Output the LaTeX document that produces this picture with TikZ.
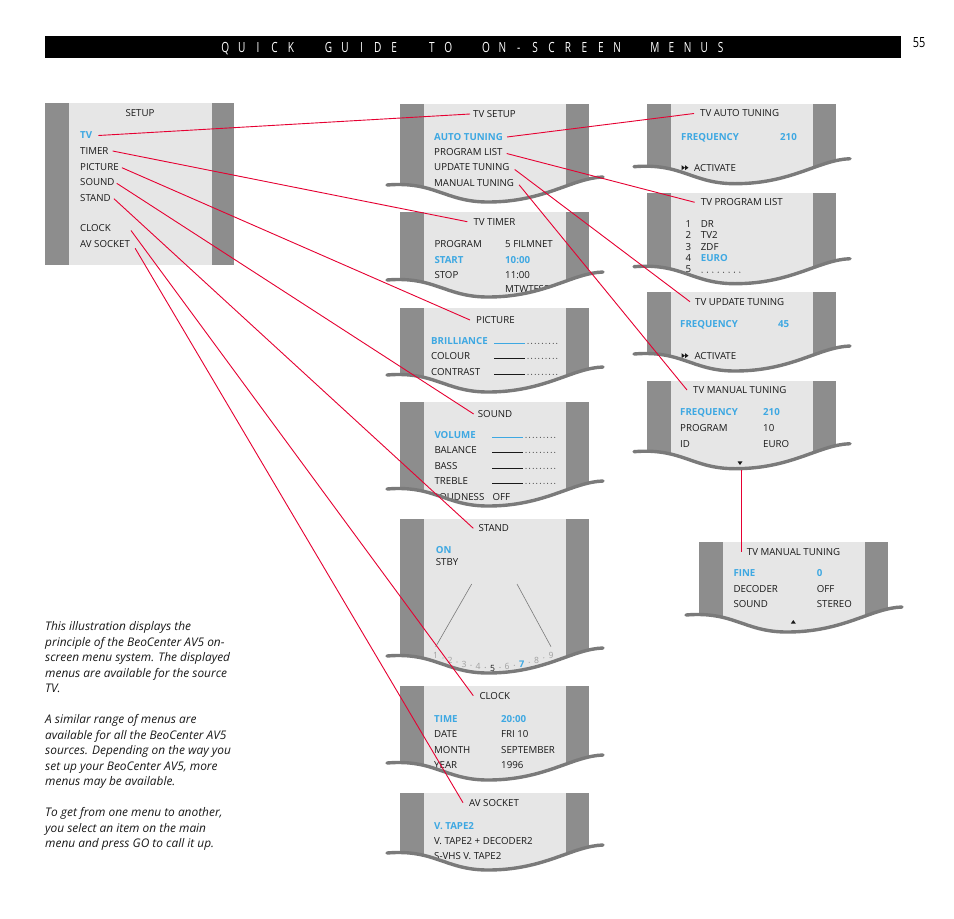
\documentclass[tikz,border=0pt]{standalone}
\usepackage{fontspec}
\setmainfont{Open Sans}
\definecolor{dkg}{RGB}{141,141,141}
\definecolor{ltg}{RGB}{230,230,230}
\definecolor{wavec}{RGB}{122,122,122}
\definecolor{hl}{RGB}{62,168,226}
\definecolor{txt}{RGB}{25,25,25}
\definecolor{lred}{RGB}{230,0,50}
\definecolor{numg}{RGB}{160,160,160}
\newcommand{\menubox}[3]{%
  \fill[dkg] (#1,#2) rectangle ({#1+189},{#3+20});
  \fill[ltg] ({#1+24},#2) rectangle ({#1+166},{#3+20});}
\newcommand{\menuwave}[2]{%
  \fill[white] ({#1-13},#2) .. controls ({#1+35},{#2-4}) and ({#1+45},{#2+17}) .. ({#1+88},{#2+17}) .. controls ({#1+145},{#2+17}) and ({#1+172},{#2-7}) .. ({#1+203},{#2-8}) -- ({#1+203},{#2+23}) -- ({#1-13},{#2+23}) -- cycle;
  \draw[wv] ({#1-13},#2) .. controls ({#1+35},{#2-4}) and ({#1+45},{#2+17}) .. ({#1+88},{#2+17}) .. controls ({#1+145},{#2+17}) and ({#1+172},{#2-7}) .. ({#1+203},{#2-8});}
\newcommand{\slbar}[3]{%
  \draw[#3,line width=1.1pt] (#1,#2) -- ({#1+31},#2);
  \foreach \k in {0,...,8} \fill[txt] ({#1+34+\k*3.6},#2) circle (0.5);}
\newcommand{\actarrow}[2]{%
  \fill[txt] (#1,{#2-2.5}) -- ({#1+3.5},#2) -- (#1,{#2+2.5}) -- cycle;
  \fill[txt] ({#1+3.5},{#2-2.5}) -- ({#1+7},#2) -- ({#1+3.5},{#2+2.5}) -- cycle;}
\begin{document}
\begin{tikzpicture}[x=1pt,y=-1pt,
  itm/.style={anchor=west,inner sep=0pt,text height=6.9pt,text depth=0pt,text=txt,font=\fontsize{9.7}{10}\selectfont},
  hi/.style={itm,text=hl,font=\fontsize{9.7}{10}\selectfont\bfseries},
  conn/.style={draw=lred,line width=0.9pt},
  wv/.style={draw=wavec,line width=3.4pt,line cap=round},
  para/.style={anchor=base west,inner sep=0pt,text=txt,font=\fontsize{11.9}{12}\selectfont\itshape},
  hd/.style={text=white,inner sep=0pt,text height=10pt,text depth=0pt,font=\fontsize{14}{14}\selectfont},
  stn/.style={inner sep=0pt,text height=6.2pt,text depth=0pt,text=numg,font=\fontsize{8.6}{9}\selectfont},
]
\useasboundingbox (0,0) rectangle (954,919);
\fill[white] (0,0) rectangle (954,919);

% header
\fill[black] (45,36) rectangle (901,58);
\foreach \c/\s [count=\i] in {Q/0,U/1,I/2,C/3,K/4,G/6.3,U/7.3,I/8.3,D/9.3,E/10.3,T/12.6,O/13.6,O/15.9,N/16.9,-/17.9,S/18.9,C/19.9,R/20.9,E/21.9,E/22.9,N/23.9,M/26.2,E/27.2,N/28.2,U/29.2,S/30.2}
  \node[hd] (hl\i) at ({225.3+\s*16.4},47.3) {\scalebox{0.72}[1]{\c}};
\node[hd,text=black] (pg) at (919,42) {\scalebox{0.78}[1]{55}};

% SETUP
\fill[dkg] (45,103) rectangle (234,265);
\fill[ltg] (68.5,103) rectangle (211.5,265);
\node[itm,anchor=center] (sT) at (140,113.3) {SETUP};
\node[hi] (sTV) at (80,135.5) {TV};
\node[itm] (sTI) at (80,151) {TIMER};
\node[itm] (sPI) at (80,166.7) {PICTURE};
\node[itm] (sSO) at (80,182.3) {SOUND};
\node[itm] (sST) at (80,197.7) {STAND};
\node[itm] (sCL) at (80,228.5) {CLOCK};
\node[itm] (sAV) at (80,244.3) {AV SOCKET};

% TV SETUP
\menubox{400}{104}{185}
\node[itm] (bT) at (473,114) {TV SETUP};
\node[hi] (bA) at (434,137) {AUTO TUNING};
\node[itm] (bP) at (434,152.5) {PROGRAM LIST};
\node[itm] (bU) at (434,167.5) {UPDATE TUNING};
\node[itm] (bM) at (434,182.8) {MANUAL TUNING};
\menuwave{400}{185}

% TV TIMER
\menubox{400}{212}{280}
\node[itm] (cT) at (473.3,221.7) {TV TIMER};
\node[itm] (c1) at (434.3,244.3) {PROGRAM};
\node[itm] (c1v) at (505,244.3) {5 FILMNET};
\node[hi] (c2) at (434.3,260) {START};
\node[hi] (c2v) at (505,260) {10:00};
\node[itm] (c3) at (434.3,275.3) {STOP};
\node[itm] (c3v) at (505,275.3) {11:00};
\node[itm] (c4v) at (505,289) {MTWTFSS};
\menuwave{400}{280}

% PICTURE
\menubox{400}{308}{375}
\node[itm] (dT) at (476,320) {PICTURE};
\node[hi] (d1) at (431,340.7) {BRILLIANCE};
\node[itm] (d2) at (431,355.7) {COLOUR};
\node[itm] (d3) at (431,371.7) {CONTRAST};
\slbar{494}{343.3}{hl}
\slbar{494}{358.3}{txt}
\slbar{494}{374.3}{txt}
\menuwave{400}{375}

% SOUND
\menubox{400}{402}{489}
\node[itm] (eT) at (477.7,414) {SOUND};
\node[hi] (e1) at (434.3,434.7) {VOLUME};
\node[itm] (e2) at (434.3,449.7) {BALANCE};
\node[itm] (e3) at (434.3,465.7) {BASS};
\node[itm] (e4) at (434.3,480.7) {TREBLE};
\node[itm] (e5) at (434.3,496.7) {LOUDNESS};
\node[itm] (e5v) at (492.3,496.7) {OFF};
\slbar{492}{437.3}{hl}
\slbar{492}{452.3}{txt}
\slbar{492}{468.3}{txt}
\slbar{492}{483.3}{txt}
\menuwave{400}{489}

% STAND
\menubox{400}{519}{656}
\node[itm] (fT) at (478.3,528.3) {STAND};
\node[hi] (f1) at (435.7,550.5) {ON};
\node[itm] (f2) at (435.7,562) {STBY};
\draw[wavec,line width=0.6pt] (471.7,584) -- (435.7,646.7);
\draw[wavec,line width=0.6pt] (517,584) -- (551,646.7);
\node[stn] (n1) at (435.7,655.7) {1};
\node[stn] (n2) at (450,660) {2};
\node[stn] (n3) at (464,664) {3};
\node[stn] (n4) at (478,666.7) {4};
\node[stn,text=txt] (n5) at (492.7,668) {5};
\node[stn] (n6) at (507,666.7) {6};
\node[stn,text=hl,font=\fontsize{9.2}{9}\selectfont\bfseries] (n7) at (521.7,664) {7};
\node[stn] (n8) at (536.7,660.7) {8};
\node[stn] (n9) at (551,655) {9};
\foreach \x/\y in {443/658,457/662,471/665.3,485.3/667.5,500/667.5,514.3/665.3,529.2/662.3,543.8/657.8}
  \fill[numg] (\x,\y) circle (0.6);
\menuwave{400}{656}

% CLOCK
\menubox{400}{686}{763}
\node[itm] (gT) at (479.3,695.7) {CLOCK};
\node[hi] (g1) at (434,718.7) {TIME};
\node[hi] (g1v) at (501,718.7) {20:00};
\node[itm] (g2) at (434,733.7) {DATE};
\node[itm] (g2v) at (501,733.7) {FRI 10};
\node[itm] (g3) at (434,749.7) {MONTH};
\node[itm] (g3v) at (501,749.7) {SEPTEMBER};
\node[itm] (g4) at (434,764.7) {YEAR};
\node[itm] (g4v) at (501,764.7) {1996};
\menuwave{400}{763}

% AV SOCKET
\menubox{400}{793}{853}
\node[itm] (hT) at (469,802.7) {AV SOCKET};
\node[hi] (h1) at (434,825.7) {V. TAPE2};
\node[itm] (h2) at (434,840.7) {V. TAPE2 + DECODER2};
\node[itm] (h3) at (434,856) {S-VHS V. TAPE2};
\menuwave{400}{853}

% TV AUTO TUNING
\menubox{647}{104}{166.7}
\node[itm] (iT) at (700,113.5) {TV AUTO TUNING};
\node[hi] (i1) at (681,136.7) {FREQUENCY};
\node[hi] (i1v) at (780,136.7) {210};
\actarrow{681.5}{167.7}
\node[itm] (i2) at (694,167.7) {ACTIVATE};
\menuwave{647}{166.7}

% TV PROGRAM LIST
\menubox{647}{193}{266.7}
\node[itm] (jT) at (700.7,202.3) {TV PROGRAM LIST};
\node[itm] (j1) at (685.5,224.3) {1};
\node[itm] (j1n) at (700.7,224.3) {DR};
\node[itm] (j2) at (685.5,235.5) {2};
\node[itm] (j2n) at (700.7,235.5) {TV2};
\node[itm] (j3) at (685.5,246.7) {3};
\node[itm] (j3n) at (700.7,246.7) {ZDF};
\node[itm] (j4) at (685.5,257.8) {4};
\node[hi] (j4n) at (700.7,257.8) {EURO};
\node[itm] (j5) at (685.5,269) {5};
\foreach \k in {0,...,7} \fill[txt] ({702+\k*5.4},272.2) circle (0.55);
\menuwave{647}{266.7}

% TV UPDATE TUNING
\menubox{647}{292}{354}
\node[itm] (kT) at (695,301.7) {TV UPDATE TUNING};
\node[hi] (k1) at (680,324) {FREQUENCY};
\node[hi] (k1v) at (778,324) {45};
\actarrow{681.5}{355.7}
\node[itm] (k2) at (694.3,355.7) {ACTIVATE};
\menuwave{647}{354}

% TV MANUAL TUNING
\menubox{647}{381}{451.7}
\node[itm] (lT) at (693,390) {TV MANUAL TUNING};
\node[hi] (l1) at (680,411.7) {FREQUENCY};
\node[hi] (l1v) at (763,411.7) {210};
\node[itm] (l2) at (680,427.7) {PROGRAM};
\node[itm] (l2v) at (763,427.7) {10};
\node[itm] (l3) at (680,443.7) {ID};
\node[itm] (l3v) at (763,443.7) {EURO};
\menuwave{647}{451.7}
\fill[txt] (737.5,461.3) -- (742.5,461.3) -- (740,465) -- cycle;
\coordinate (dn) at (741,470);

% TV MANUAL TUNING 2
\menubox{699}{542}{615}
\node[itm] (mT) at (746.7,551.7) {TV MANUAL TUNING};
\node[hi] (m1) at (733.3,573.3) {FINE};
\node[hi] (m1v) at (816.7,573.3) {0};
\node[itm] (m2) at (733.3,589) {DECODER};
\node[itm] (m2v) at (816.7,589) {OFF};
\node[itm] (m3) at (733.3,604.3) {SOUND};
\node[itm] (m3v) at (816.7,604.3) {STEREO};
\menuwave{699}{615}
\fill[txt] (790.8,623.6) -- (795.8,623.6) -- (793.3,620) -- cycle;

% text block
\node[para] (p1) at (45,630.4) {This illustration displays the};
\node[para] (p2) at (45,646) {principle of the BeoCenter AV5 on-};
\node[para] (p3) at (45,661.4) {screen menu system. The displayed};
\node[para] (p4) at (45,677) {menus are available for the source};
\node[para] (p5) at (45,692.7) {TV.};
\node[para] (p6) at (45,723.7) {A similar range of menus are};
\node[para] (p7) at (45,739) {available for all the BeoCenter AV5};
\node[para] (p8) at (45,754.7) {sources. Depending on the way you};
\node[para] (p9) at (45,770.4) {set up your BeoCenter AV5, more};
\node[para] (p10) at (45,785.7) {menus may be available.};
\node[para] (p11) at (45,816.4) {To get from one menu to another,};
\node[para] (p12) at (45,832) {you select an item on the main};
\node[para] (p13) at (45,847.7) {menu and press GO to call it up.};

% connectors
\draw[conn] ([xshift=6pt]sTV.east) -- ([xshift=-3pt]bT.west);
\draw[conn] ([xshift=4pt]sTI.east) -- ([xshift=-6pt]cT.west);
\draw[conn] ([xshift=3pt,yshift=-1pt]sPI.east) -- ([xshift=-6pt]dT.west);
\draw[conn] ([xshift=2pt,yshift=-1pt]sSO.east) -- ([xshift=-4pt]eT.west);
\draw[conn] ([xshift=3pt,yshift=-1pt]sST.east) -- ([xshift=-5pt]fT.west);
\draw[conn] ([xshift=20pt,yshift=-2pt]sCL.east) -- ([xshift=-6pt]gT.west);
\draw[conn] ([xshift=5pt,yshift=-4pt]sAV.east) -- ([xshift=-6pt]hT.west);
\draw[conn] ([xshift=4pt]bA.east) -- ([xshift=-6pt]iT.west);
\draw[conn] ([xshift=4pt,yshift=-1pt]bP.east) -- ([xshift=-6pt]jT.west);
\draw[conn] ([xshift=5pt,yshift=-2pt]bU.east) -- ([xshift=-5pt]kT.west);
\draw[conn] ([xshift=5pt,yshift=-2pt]bM.east) -- ([xshift=-6pt]lT.west);
\draw[conn] (dn) -- (dn |- mT.west);
\end{tikzpicture}
\end{document}
